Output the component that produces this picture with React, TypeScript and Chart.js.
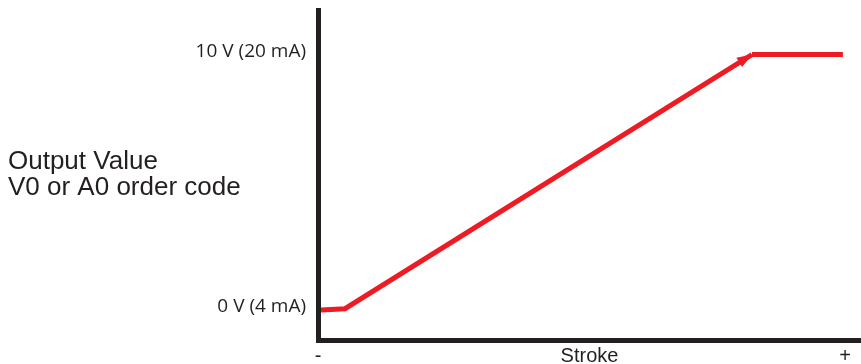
import React, { useEffect, useRef } from "react";
import { Chart, registerables } from "chart.js";

Chart.register(...registerables);

// Stroke position (percent of stroke, 0 = "-", 100 = "+") and output value (V)
const strokeRise = [0.57, 5.12, 82.35];
const outputRise = [0, 0.05, 10];
const strokeHold = [82.35, 99.6];
const outputHold = [10, 10];

const yTickValues = [0, 10];
const yTickLabels = ["0 V (4 mA)", "10 V (20 mA)"];
const xTickValues = [0, 100];
const xTickLabels = ["-", "+"];
const xTitle = "Stroke";
const yTitleLines = ["Output Value", "V0 or A0 order code"];

const RED = "#ed1c24";
const INK = "#231f20";

const arrowPlugin = {
  id: "arrowHead",
  afterDatasetsDraw(chart: any) {
    const meta = chart.getDatasetMeta(0);
    const pts = meta.data;
    if (!pts || pts.length < 2) return;
    const a = pts[pts.length - 2];
    const b = pts[pts.length - 1];
    const ang = Math.atan2(b.y - a.y, b.x - a.x);
    const len = 15;
    const half = 5.5;
    const ctx = chart.ctx;
    ctx.save();
    ctx.fillStyle = RED;
    ctx.beginPath();
    ctx.moveTo(b.x, b.y);
    const bx = b.x - len * Math.cos(ang);
    const by = b.y - len * Math.sin(ang);
    ctx.lineTo(bx + half * Math.sin(ang), by - half * Math.cos(ang));
    ctx.lineTo(bx - half * Math.sin(ang), by + half * Math.cos(ang));
    ctx.closePath();
    ctx.fill();
    ctx.restore();
  },
};

const sideTitlePlugin = {
  id: "sideTitle",
  afterDraw(chart: any) {
    const ctx = chart.ctx;
    ctx.save();
    ctx.fillStyle = INK;
    ctx.font = "26px 'Liberation Sans', Arial, sans-serif";
    ctx.textAlign = "left";
    ctx.textBaseline = "alphabetic";
    yTitleLines.forEach((t, i) => ctx.fillText(t, 8, 169 + i * 26));
    ctx.restore();
  },
};

export default function App() {
  const ref = useRef<HTMLCanvasElement>(null);

  useEffect(() => {
    if (!ref.current) return;
    const chart = new Chart(ref.current, {
      type: "line",
      data: {
        datasets: [
          {
            data: strokeRise.map((x, i) => ({ x, y: outputRise[i] })),
            borderColor: RED,
            borderWidth: 5,
            pointRadius: 0,
            tension: 0,
            borderCapStyle: "butt",
            borderJoinStyle: "miter",
          },
          {
            data: strokeHold.map((x, i) => ({ x, y: outputHold[i] })),
            borderColor: RED,
            borderWidth: 5,
            pointRadius: 0,
            tension: 0,
            borderCapStyle: "butt",
          },
        ],
      },
      options: {
        animation: false,
        responsive: false,
        events: [],
        layout: { padding: { top: 10, left: 0, right: 0, bottom: 0 } },
        plugins: {
          legend: { display: false },
          tooltip: { enabled: false },
        },
        scales: {
          x: {
            type: "linear",
            min: 0,
            max: 103.04,
            grid: { display: false, drawTicks: false },
            border: { display: true, color: INK, width: 5 },
            afterBuildTicks: (s: any) => {
              s.ticks = xTickValues.map((v) => ({ value: v }));
            },
            afterFit: (s: any) => {
              s.height = 24;
              s.paddingLeft = 0;
              s.paddingRight = 0;
            },
            ticks: {
              autoSkip: false,
              maxRotation: 0,
              padding: 4,
              color: INK,
              font: { family: "'Liberation Sans', Arial, sans-serif", size: 20 },
              callback: (_v: any, i: number) => xTickLabels[i],
            },
            title: {
              display: true,
              text: xTitle,
              color: INK,
              font: { family: "'Liberation Sans', Arial, sans-serif", size: 20 },
              padding: { top: 0, bottom: -4 },
            },
          },
          y: {
            type: "linear",
            min: -1.174,
            max: 11.742,
            grid: { display: false, drawTicks: false },
            border: { display: true, color: INK, width: 5 },
            afterBuildTicks: (s: any) => {
              s.ticks = yTickValues.map((v) => ({ value: v }));
            },
            afterFit: (s: any) => {
              s.width = 318;
              s.paddingTop = 0;
              s.paddingBottom = 0;
            },
            ticks: {
              autoSkip: false,
              padding: 12,
              labelOffset: -3,
              color: INK,
              font: { family: "'Open Sans', sans-serif", size: 19 },
              callback: (_v: any, i: number) => yTickLabels[i],
            },
          },
        },
      },
      plugins: [arrowPlugin, sideTitlePlugin],
    });
    return () => chart.destroy();
  }, []);

  return (
    <div style={{ position: "fixed", left: 0, top: 0, width: 861, height: 364, background: "#fff" }}>
      <canvas ref={ref} width={861} height={364} style={{ display: "block" }} />
    </div>
  );
}
